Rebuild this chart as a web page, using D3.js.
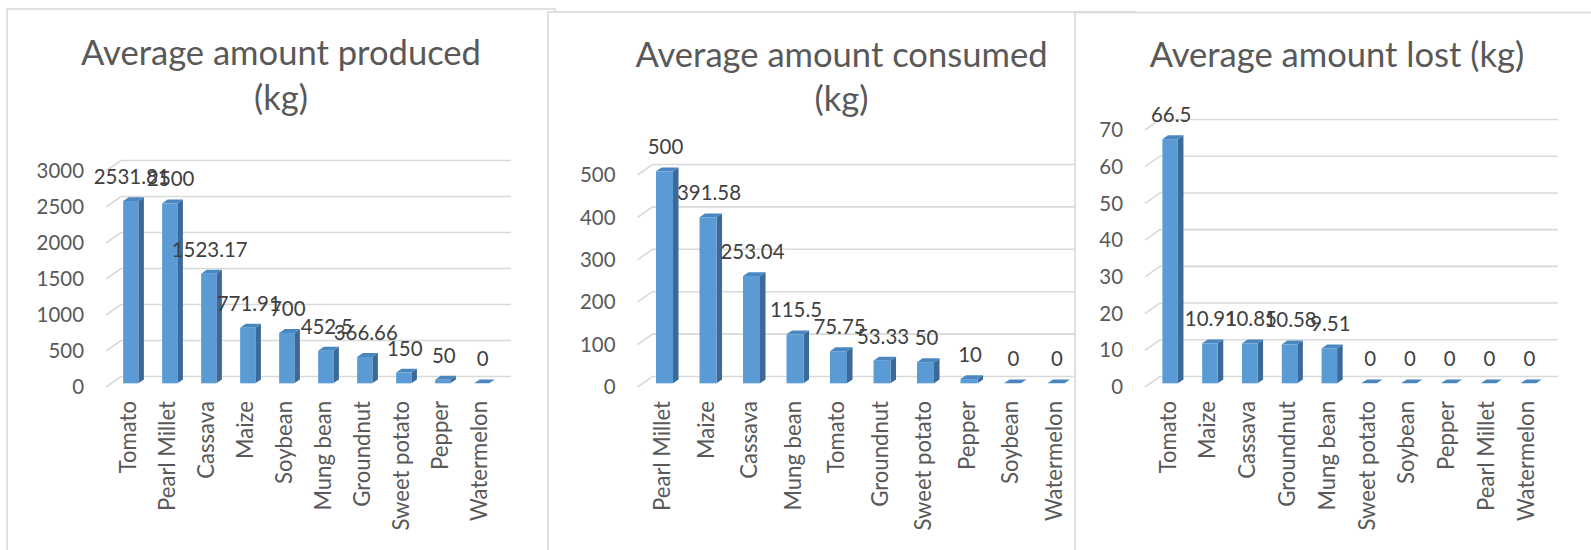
<!DOCTYPE html>
<html>
<head>
<meta charset="utf-8">
<script src="https://cdn.jsdelivr.net/npm/d3@7"></script>
<style>
  html, body { margin: 0; padding: 0; background: #ffffff; }
  svg { display: block; }
</style>
</head>
<body>
<svg id="chart" width="1591" height="550"></svg>
<script>
// ---------- DATA ----------
const producedCategories = ["Tomato", "Pearl Millet", "Cassava", "Maize", "Soybean", "Mung bean", "Groundnut", "Sweet potato", "Pepper", "Watermelon"];
const producedValues = [2531.81, 2500, 1523.17, 771.91, 700, 452.5, 366.66, 150, 50, 0];
const producedTicks = [0, 500, 1000, 1500, 2000, 2500, 3000];

const consumedCategories = ["Pearl Millet", "Maize", "Cassava", "Mung bean", "Tomato", "Groundnut", "Sweet potato", "Pepper", "Soybean", "Watermelon"];
const consumedValues = [500, 391.58, 253.04, 115.5, 75.75, 53.33, 50, 10, 0, 0];
const consumedTicks = [0, 100, 200, 300, 400, 500];

const lostCategories = ["Tomato", "Maize", "Cassava", "Groundnut", "Mung bean", "Sweet potato", "Soybean", "Pepper", "Pearl Millet", "Watermelon"];
const lostValues = [66.5, 10.91, 10.85, 10.58, 9.51, 0, 0, 0, 0, 0];
const lostTicks = [0, 10, 20, 30, 40, 50, 60, 70];

const titleProduced = ["Average amount produced", "(kg)"];
const titleConsumed = ["Average amount consumed", "(kg)"];
const titleLost = ["Average amount lost (kg)"];

// ---------- LAYOUT / STYLE ----------
const FONT = "Lato, 'Open Sans', sans-serif";
const svg = d3.select("#chart");

function measure(text, size) {
  const t = svg.append("text").attr("font-family", FONT).attr("font-size", size).text(text);
  const w = t.node().getComputedTextLength();
  t.remove();
  return w;
}
const titleSize = 100 * 400 / measure("Average amount produced", 100);
const catSize = 100 * 110 / measure("Pearl Millet", 100);
const numSize = 100 * 76 / measure("2531.81", 100);

const DX = 15, DY = 10.5;       // full depth of the 3D floor
const ZF = 0.35, ZB = 0.72;     // front / back depth of the columns
const Y0 = 387;                 // value 0 on the front plane

const panels = [
  { left: 7, top: 9, width: 548, titleX: 281, titleY: [65, 109.5], title: titleProduced,
    x0: 106, step: 39, H: 216, max: 3000, cats: producedCategories, vals: producedValues, ticks: producedTicks },
  { left: 548, top: 12, width: 587, titleX: 841.5, titleY: [67, 111], title: titleConsumed,
    x0: 637.5, step: 43.5, H: 212, max: 500, cats: consumedCategories, vals: consumedValues, ticks: consumedTicks },
  { left: 1075, top: 12.5, width: 530, titleX: 1337, titleY: [66.5], title: titleLost,
    x0: 1145, step: 39.8, H: 257, max: 70, cats: lostCategories, vals: lostValues, ticks: lostTicks }
];

const COL_FRONT = "#5b9bd5", COL_SIDE = "#3b6a98", COL_TOP = "#4a86c0";

panels.forEach(p => {
  const g = svg.append("g");
  g.append("rect")
    .attr("x", p.left).attr("y", p.top)
    .attr("width", p.width).attr("height", 600)
    .attr("fill", "#ffffff").attr("stroke", "#d9d9d9").attr("stroke-width", 1.6);

  // title
  p.title.forEach((line, i) => {
    g.append("text")
      .attr("x", p.titleX).attr("y", p.titleY[i])
      .attr("text-anchor", "middle")
      .attr("font-family", FONT).attr("font-size", titleSize)
      .attr("fill", "#595959")
      .text(line);
  });

  const x = d3.scaleBand().domain(p.cats)
    .range([p.x0, p.x0 + p.step * p.cats.length])
    .paddingInner(0.61).paddingOuter(0.305);
  const y = d3.scaleLinear().domain([0, p.max]).range([Y0, Y0 - p.H]);
  const x1 = p.x0 + p.step * p.cats.length;

  // gridlines (side wall diagonal + back wall)
  g.selectAll(".grid").data(p.ticks).enter().append("path")
    .attr("d", t => `M${p.x0},${y(t)} L${p.x0 + DX},${y(t) - DY} L${x1 + DX},${y(t) - DY}`)
    .attr("fill", "none").attr("stroke", "#d9d9d9").attr("stroke-width", 1.6);

  // tick labels
  g.selectAll(".tick").data(p.ticks).enter().append("text")
    .attr("x", p.x0 - 22).attr("y", t => y(t)).attr("dy", "0.35em")
    .attr("text-anchor", "end")
    .attr("font-family", FONT).attr("font-size", numSize).attr("fill", "#595959")
    .text(t => t);

  const bw = x.bandwidth();
  const sdx = (ZB - ZF) * DX, sdy = (ZB - ZF) * DY;
  const data = p.cats.map((c, i) => ({ c, v: p.vals[i] }));

  const bars = g.selectAll(".bar").data(data).enter().append("g");
  bars.each(function(d) {
    const b = d3.select(this);
    const xl = x(d.c) + ZF * DX;
    const yb = y(0) - ZF * DY;
    const yt = y(d.v) - ZF * DY;
    b.append("polygon")
      .attr("points", [[xl + bw, yt], [xl + bw + sdx, yt - sdy], [xl + bw + sdx, yb - sdy], [xl + bw, yb]].join(" "))
      .attr("fill", COL_SIDE);
    b.append("polygon")
      .attr("points", [[xl, yt], [xl + sdx, yt - sdy], [xl + bw + sdx, yt - sdy], [xl + bw, yt]].join(" "))
      .attr("fill", COL_TOP);
    b.append("rect")
      .attr("x", xl).attr("y", yt).attr("width", bw).attr("height", yb - yt)
      .attr("fill", COL_FRONT);
  });

  // data labels
  g.selectAll(".dl").data(data).enter().append("text")
    .attr("x", d => x(d.c) + ZF * DX + bw / 2 + 1)
    .attr("y", d => y(d.v) - ZF * DY - 17)
    .attr("text-anchor", "middle")
    .attr("font-family", FONT).attr("font-size", numSize).attr("fill", "#404040")
    .text(d => d.v);

  // category labels
  g.selectAll(".cat").data(p.cats).enter().append("text")
    .attr("transform", c => `translate(${x(c) + bw / 2 + 3},401) rotate(-90)`)
    .attr("dy", "0.35em")
    .attr("text-anchor", "end")
    .attr("font-family", FONT).attr("font-size", catSize).attr("fill", "#595959")
    .text(c => c);
});
</script>
</body>
</html>
